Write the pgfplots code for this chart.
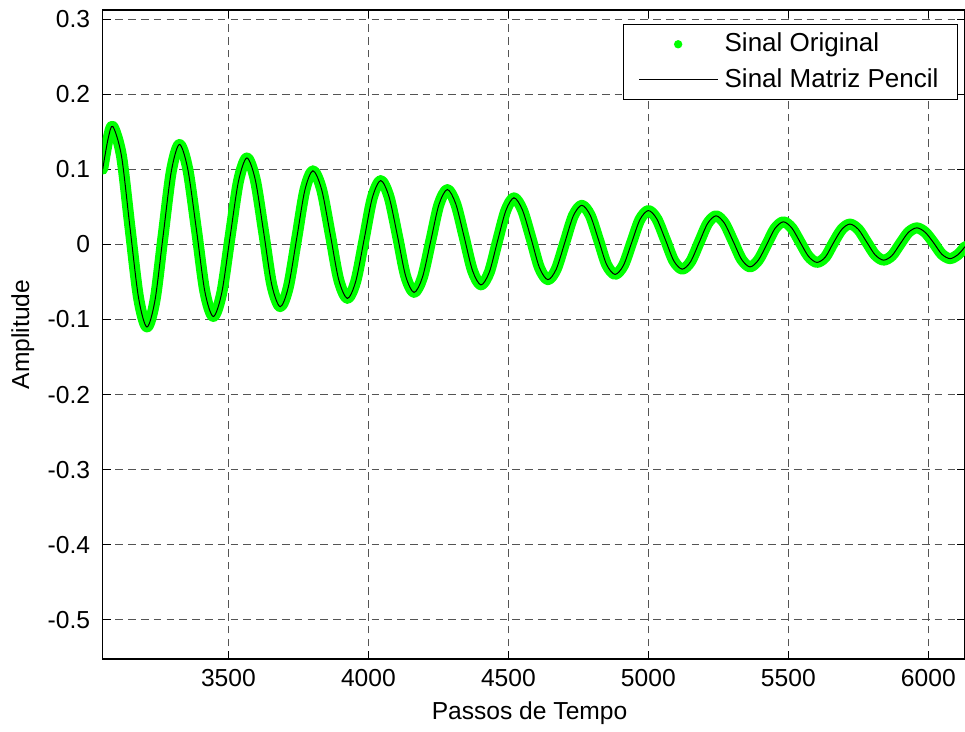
\documentclass[border=0pt]{standalone}
\usepackage{pgfplots}
\pgfplotsset{compat=1.18}
\usepackage{pgfplotstable}
\usetikzlibrary{calc}
\usepackage{fontspec}
\setmainfont{Liberation Sans}
\definecolor{mgreen}{rgb}{0,1,0}
\definecolor{gridc}{rgb}{0.33,0.33,0.33}
\pgfplotstableread{
x y
3051 0.100
3070 0.140
3087 0.157
3118 0.118
3148 0.024
3179 -0.071
3209 -0.110
3238 -0.074
3267 0.012
3296 0.097
3325 0.133
3355 0.100
3386 0.019
3416 -0.063
3446 -0.096
3476 -0.065
3506 0.010
3536 0.084
3566 0.115
3596 0.086
3626 0.016
3655 -0.054
3685 -0.083
3714 -0.057
3744 0.008
3773 0.072
3802 0.098
3833 0.073
3864 0.013
3894 -0.047
3925 -0.072
3955 -0.049
3985 0.007
4014 0.062
4044 0.085
4074 0.063
4104 0.011
4133 -0.042
4163 -0.064
4193 -0.044
4223 0.005
4252 0.053
4282 0.073
4312 0.054
4342 0.010
4372 -0.035
4402 -0.054
4432 -0.037
4461 0.004
4491 0.045
4520 0.062
4550 0.046
4581 0.008
4611 -0.031
4641 -0.047
4671 -0.033
4702 0.003
4732 0.038
4762 0.052
4792 0.039
4822 0.006
4851 -0.027
4881 -0.040
4911 -0.028
4941 0.003
4970 0.033
5000 0.045
5030 0.034
5061 0.006
5091 -0.022
5121 -0.033
5151 -0.023
5182 0.003
5212 0.028
5242 0.038
5272 0.028
5303 0.004
5333 -0.020
5363 -0.030
5393 -0.021
5423 0.000
5452 0.021
5482 0.030
5512 0.022
5542 0.003
5572 -0.016
5602 -0.024
5632 -0.017
5661 0.002
5691 0.020
5720 0.027
5750 0.020
5780 0.003
5810 -0.014
5840 -0.021
5870 -0.015
5900 0.001
5929 0.016
5959 0.022
5989 0.016
6019 0.002
6048 -0.013
6078 -0.019
6108 -0.013
6131 -0.003
}\sig
\begin{document}
\fontsize{12.3}{14}\selectfont
\begin{tikzpicture}
\begin{axis}[
  scale only axis,
  width=431.15pt, height=324.5pt,
  xmin=3051, xmax=6131,
  ymin=-0.552, ymax=0.312,
  xtick={3500,4000,4500,5000,5500,6000},
  xticklabels={3500,4000,4500,5000,5500,6000},
  ytick={-0.5,-0.4,-0.3,-0.2,-0.1,0,0.1,0.2,0.3},
  yticklabels={-0.5,-0.4,-0.3,-0.2,-0.1,0,0.1,0.2,0.3},
  tick align=inside,
  major tick length=4pt,
  tick style={black, line width=0.5pt},
  axis line style={black, line width=0.7pt},
  grid=major,
  major grid style={gridc, line width=0.5pt, dash pattern=on 3.8pt off 2.6pt},
  ticklabel style={font=\fontsize{12.3}{14}\selectfont},
  xticklabel style={yshift=-1pt},
  yticklabel style={xshift=-2pt},
  every axis y label/.style={at={(axis description cs:-0.0928,0.5)}, rotate=90, anchor=center, font=\fontsize{12.3}{14}\selectfont},
  every axis x label/.style={at={(axis description cs:0.495,-0.0832)}, anchor=center, font=\fontsize{12.3}{14}\selectfont},
  xlabel={Passos de Tempo},
  ylabel={Amplitude},
  legend cell align=left,
  legend style={at={(1,1)}, anchor=north east, xshift=-3.5pt, yshift=-7pt,
    draw=black, line width=0.5pt, font=\fontsize{13}{15}\selectfont,
    inner xsep=7.5pt, inner ysep=2.25pt, row sep=2.5pt, column sep=1pt},
  clip=true,
]
\addplot[mgreen, line width=5.5pt, line join=round, line cap=round, smooth,
  legend image code/.code={\path[fill=mgreen, draw=none, line width=0pt] (19.5pt,0pt) circle (2.1pt);
  \path[draw=none, fill=none] (0pt,0pt) -- (39.5pt,0pt);}] table[x=x,y=y] {\sig};
\addlegendentry{Sinal Original}
\addplot[black, line width=0.5pt, smooth,
  legend image code/.code={\draw[black, line width=0.5pt] (0pt,0pt) -- (39.5pt,0pt);}] table[x=x,y=y] {\sig};
\addlegendentry{Sinal Matriz Pencil}
\end{axis}
\pgfresetboundingbox
\path ($(current axis.south west)+(-51.35pt,-36pt)$) rectangle ($(current axis.north east)+(0pt,5pt)$);
\end{tikzpicture}
\end{document}
